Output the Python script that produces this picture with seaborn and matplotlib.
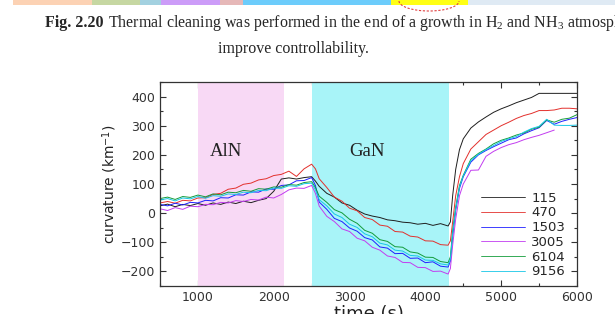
import pandas as pd
import matplotlib
matplotlib.use("Agg")
import matplotlib.pyplot as plt
import seaborn as sns
from matplotlib.patches import Rectangle, Arc
from matplotlib.ticker import MultipleLocator

# @@ data
time_s = [500, 600, 700, 800, 900, 1000, 1100, 1200, 1300, 1400,
          1500, 1600, 1700, 1800, 1900, 2000, 2100, 2200, 2300, 2400,
          2500, 2550, 2600, 2700, 2800, 2900, 3000, 3100, 3200, 3300,
          3400, 3500, 3600, 3700, 3800, 3900, 4000, 4100, 4200, 4300,
          4330, 4360, 4400, 4450, 4500, 4600, 4700, 4800, 4900, 5000,
          5100, 5200, 5300, 5400, 5500, 5600, 5700, 5800, 5900, 6000]

c115 = [25, 31, 22, 30, 26, 33, 27, 35, 30, 38,
        33, 41, 36, 44, 50, 75, 117, 121, 117, 122,
        125, 110, 92, 68, 55, 35, 27, 10, -3, -10,
        -15, -23, -26, -31, -33, -38, -35, -42, -36, -44,
        -30, 60, 150, 218, 255, 292, 313, 330, 346, 358,
        368, 379, 388, 397, 411, 411, 411, 411, 411, 411]

c470 = [35, 40, 34, 44, 42, 52, 53, 64, 68, 82,
        86, 99, 103, 114, 118, 129, 133, 144, 126, 152,
        168, 152, 118, 88, 55, 41, 17, 8, -15, -22,
        -41, -45, -63, -65, -79, -82, -95, -96, -108, -110,
        -95, -30, 60, 125, 170, 220, 245, 270, 285, 300,
        312, 325, 335, 342, 352, 352, 354, 360, 360, 358]

c1503 = [30, 25, 34, 28, 37, 35, 44, 42, 53, 52,
         63, 62, 73, 72, 83, 82, 95, 97, 111, 112,
         122, 95, 38, 13, -18, -29, -51, -62, -84, -92,
         -116, -120, -139, -138, -155, -154, -170, -167, -182, -185,
         -165, -80, 10, 85, 125, 175, 200, 215, 228, 240,
         252, 258, 272, 283, 293, 318, 305, 315, 322, 328]

c3005 = [15, 9, 19, 13, 24, 22, 30, 29, 37, 35,
         43, 40, 47, 45, 55, 52, 64, 80, 86, 85,
         95, 68, 24, -11, -29, -54, -63, -86, -95, -117,
         -127, -147, -152, -169, -170, -186, -187, -200, -199, -209,
         -190, -110, -20, 60, 100, 147, 148, 195, 212, 225,
         235, 242, 252, 260, 267, 276, 285, None, None, None]

c6104 = [50, 55, 47, 57, 54, 62, 56, 66, 63, 72,
         70, 78, 75, 84, 82, 90, 89, 98, 96, 105,
         108, 88, 58, 37, 12, 1, -21, -35, -59, -69,
         -91, -97, -115, -117, -133, -137, -151, -152, -166, -170,
         -150, -60, 20, 95, 130, 185, 205, 220, 238, 250,
         258, 268, 275, 288, 295, 320, 312, 322, 326, 338]

c9156 = [45, 50, 42, 52, 49, 57, 51, 60, 58, 66,
         64, 72, 70, 78, 77, 86, 85, 94, 92, 101,
         103, 80, 46, 25, -3, -15, -38, -49, -71, -81,
         -103, -109, -127, -130, -145, -147, -161, -162, -174, -178,
         -158, -70, 15, 90, 128, 180, 202, 218, 232, 246,
         255, 263, 278, 290, 298, 322, 302, 301, 301, 302]

samples = ["115", "470", "1503", "3005", "6104", "9156"]
series = [c115, c470, c1503, c3005, c6104, c9156]
colors = ["#1e1e1e", "#e3302c", "#1f1fff", "#c23cf0", "#139c3a", "#17c6e6"]
# @@

sns.set_style("ticks")
plt.rcParams["font.family"] = ["DejaVu Sans"]
plt.rcParams["mathtext.fontset"] = "custom"
plt.rcParams["mathtext.rm"] = "Liberation Serif"
plt.rcParams["mathtext.it"] = "Liberation Serif"
plt.rcParams["mathtext.sf"] = "DejaVu Sans"

W, H = 615.0, 314.0


def make_frame():
    rows = []
    for name, vals in zip(samples, series):
        for t, v in zip(time_s, vals):
            if v is not None:
                rows.append({"time": t, "curvature": v, "sample": name})
    return pd.DataFrame(rows)


def draw_page_bits(fig):
    # coloured strip at the very top of the page
    strip = [(13, 92, "#fcd2b4"), (92, 140, "#c6d7a2"), (140, 161, "#a3d1e0"),
             (161, 220, "#cc9cf8"), (220, 243, "#e6b8b8"), (243, 391, "#6cccfb"),
             (391, 468, "#ffff14"), (468, 615, "#dfeaf4")]
    for x0, x1, col in strip:
        fig.add_artist(Rectangle((x0 / W, 1 - 4.5 / H), (x1 - x0) / W, 4.5 / H,
                                 transform=fig.transFigure, color=col, lw=0))
    fig.add_artist(Arc((429 / W, 1 - 1 / H), 60 / W, 20 / H, theta1=180, theta2=360,
                       transform=fig.transFigure, color="#e04040", lw=0.8, ls=(0, (2, 1.5))))

    # caption
    bold = fig.text(45 / W, 1 - 27 / H, "Fig. 2.20", family="Liberation Serif",
                    weight="bold", fontsize=11.5, va="baseline")
    renderer = fig.canvas.get_renderer()
    bb = bold.get_window_extent(renderer)
    fig.text((bb.x1 + 4) / W, 1 - 27 / H,
             r"Thermal cleaning was performed in the end of a growth in H$_2$ and NH$_3$ atmosph",
             family="Liberation Serif", fontsize=11.5, va="baseline")
    fig.text(293 / W, 1 - 53 / H, "improve controllability.", family="Liberation Serif",
             fontsize=11.5, ha="center", va="baseline")


def evaluate():
    df = make_frame()
    fig = plt.figure(figsize=(6.15, 3.14), dpi=100)
    ax = fig.add_axes([160 / W, 1 - 286 / H, 417 / W, 204 / H])

    ax.axvspan(1000, 2130, color="#f8d9f5", lw=0)
    ax.axvspan(2500, 4310, color="#a8f4f8", lw=0)

    sns.lineplot(data=df, x="time", y="curvature", hue="sample", hue_order=samples,
                 palette=dict(zip(samples, colors)), estimator=None, sort=False,
                 linewidth=0.7, ax=ax)

    ax.text(1375, 212, "AlN", family="Liberation Serif", fontsize=13.5,
            ha="center", va="center", color="#222222")
    ax.text(3230, 212, "GaN", family="Liberation Serif", fontsize=13.5,
            ha="center", va="center", color="#222222")

    ax.set_xlim(500, 6000)
    ax.set_ylim(-250, 450)
    ax.xaxis.set_minor_locator(MultipleLocator(500))
    ax.yaxis.set_minor_locator(MultipleLocator(50))
    ax.set_xticks([1000, 2000, 3000, 4000, 5000, 6000])
    ax.set_yticks([-200, -100, 0, 100, 200, 300, 400])
    ax.tick_params(which="both", direction="in", top=True, right=True,
                   labelsize=9, colors="#333333", width=0.8)
    ax.tick_params(which="major", length=4)
    ax.tick_params(which="minor", length=2.5)
    for s in ax.spines.values():
        s.set_linewidth(0.9)
        s.set_color("#333333")

    ax.set_xlabel("time (s)", fontsize=13, color="#222222")
    ax.xaxis.set_label_coords(0.5, -0.095)
    ax.xaxis.label.set_va("top")
    ax.set_ylabel(r"curvature (km$^{\mathsf{-1}}$)", fontsize=10, color="#222222")
    ax.yaxis.set_label_coords(-0.098, 0.5)

    leg = ax.legend(loc="center left", bbox_to_anchor=(0.77, 0.25), frameon=False,
                    fontsize=9.5, handlelength=3.3, handletextpad=0.5,
                    labelspacing=0.13, borderpad=0, borderaxespad=0)
    for line in leg.get_lines():
        line.set_linewidth(0.6)

    draw_page_bits(fig)
    fig.savefig("out.png", dpi=100)


if __name__ == "__main__":
    evaluate()
